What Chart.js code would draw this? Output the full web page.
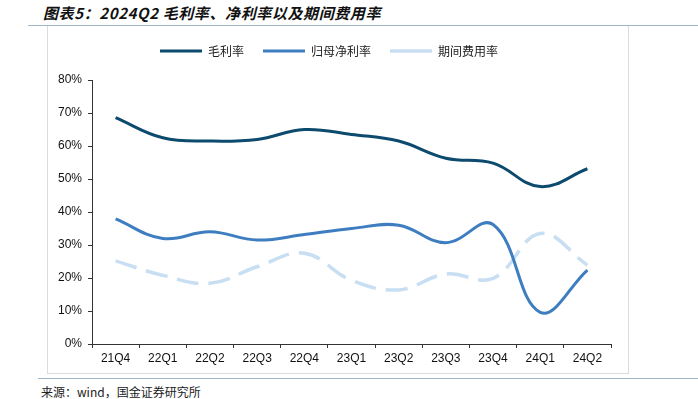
<!DOCTYPE html>
<html>
<head>
<meta charset="utf-8">
<script src="https://cdn.jsdelivr.net/npm/chart.js@4"></script>
<style>
  body { margin: 0; width: 698px; height: 399px; background: #fff; position: relative; overflow: hidden; }
  #title { position: absolute; left: 43px; top: 2px; font: italic bold 15px "Noto Sans CJK SC", sans-serif; letter-spacing: 0.6px; color: #111; white-space: nowrap; }
  #rule1 { position: absolute; left: 28px; top: 25px; width: 670px; height: 1px; background: #9fb7c9; }
  #frame { position: absolute; left: 47px; top: 26px; width: 580px; height: 347px; border: 1px solid #dcdcdc; border-top: none; }
  #rule2 { position: absolute; left: 38px; top: 378px; width: 660px; height: 1px; background: #9fb7c9; }
  #source { position: absolute; left: 41px; top: 383px; font: 12px "Noto Sans CJK SC", sans-serif; color: #222; white-space: nowrap; }
  #wrap { position: absolute; left: 47px; top: 26px; width: 581px; height: 348px; }
</style>
</head>
<body>
<div id="title">图表5：2024Q2 毛利率、净利率以及期间费用率</div>
<div id="rule1"></div>
<div id="frame"></div>
<div id="wrap"><canvas id="rates-chart" width="581" height="348"></canvas></div>
<div id="rule2"></div>
<div id="source">来源：wind，国金证券研究所</div>
<script>
const quarters = ['21Q4', '22Q1', '22Q2', '22Q3', '22Q4', '23Q1', '23Q2', '23Q3', '23Q4', '24Q1', '24Q2'];
const grossMargin = [68.6, 62.5, 61.5, 62.0, 65.0, 63.5, 61.5, 56.3, 54.8, 47.7, 53.1];
const netMargin = [37.9, 32.0, 34.0, 31.5, 33.2, 35.0, 36.0, 30.7, 36.2, 9.6, 22.4];
const expenseRatio = [25.2, 20.8, 18.4, 23.4, 27.5, 19.3, 16.4, 21.2, 19.9, 33.5, 23.9];

const ctx = document.getElementById('rates-chart');

// give the legend a fixed height so the plot starts where it does in the original
const legendHeight = {
    id: 'legendHeight',
    beforeInit(chart) {
        const fit = chart.legend.fit;
        chart.legend.fit = function () {
            fit.call(this);
            this.height = 54;
        };
    }
};

new Chart(ctx, {
    type: 'line',
    data: {
        labels: quarters,
        datasets: [{
            label: '毛利率',
            data: grossMargin,
            borderColor: '#0c4a6e',
            backgroundColor: '#0c4a6e',
            borderWidth: 3,
            tension: 0.4
        }, {
            label: '归母净利率',
            data: netMargin,
            borderColor: '#3e7ec0',
            backgroundColor: '#3e7ec0',
            borderWidth: 3,
            tension: 0.4
        }, {
            label: '期间费用率',
            data: expenseRatio,
            borderColor: '#c8def2',
            backgroundColor: '#c8def2',
            borderWidth: 3.5,
            borderDash: [22, 10],
            tension: 0.4
        }]
    },
    options: {
        responsive: false,
        animation: false,
        elements: { point: { radius: 0 } },
        layout: { padding: { top: 0, right: 17, bottom: 0, left: 0 } },
        plugins: {
            legend: {
                display: true,
                labels: {
                    usePointStyle: true,
                    pointStyle: 'line',
                    pointStyleWidth: 42,
                    boxHeight: 12,
                    padding: 19,
                    color: '#222',
                    font: { family: '"Noto Sans CJK SC", sans-serif', size: 12 }
                }
            },
            tooltip: { enabled: false }
        },
        scales: {
            x: {
                offset: true,
                border: { color: '#333', width: 1 },
                grid: { drawOnChartArea: false, drawTicks: true, tickLength: 4, color: '#333', offset: true },
                ticks: { color: '#111', padding: 3, maxRotation: 0, font: { family: '"Liberation Sans", Arial, sans-serif', size: 12 } },
                afterFit(scale) { scale.height = 30; }
            },
            y: {
                min: 0,
                max: 80,
                border: { color: '#333', width: 1 },
                grid: { drawOnChartArea: false, drawTicks: true, tickLength: 4, color: '#333' },
                ticks: {
                    stepSize: 10,
                    color: '#111',
                    padding: 6,
                    font: { family: '"Liberation Sans", Arial, sans-serif', size: 12 },
                    callback: v => v + '%'
                },
                afterFit(scale) { scale.width = 45; }
            }
        }
    },
    plugins: [legendHeight]
});
</script>
</body>
</html>
